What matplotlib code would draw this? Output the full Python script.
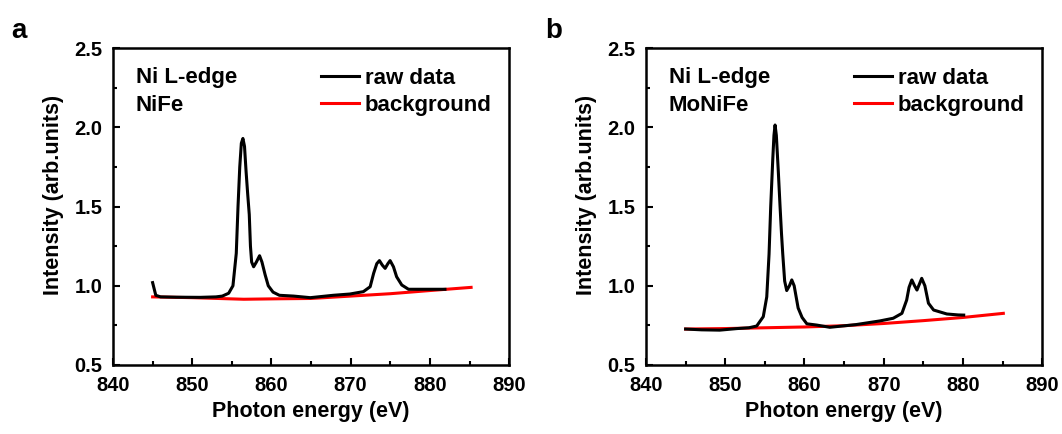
import matplotlib
matplotlib.use("Agg")
import matplotlib.pyplot as plt

plt.rcParams['font.family'] = ['Liberation Sans', 'DejaVu Sans']
plt.rcParams['font.weight'] = 'bold'

# Ni L-edge spectrum, NiFe sample
nife_energy = [845.0, 845.4, 846.0, 848.0, 851.0, 853.0, 853.8, 854.6, 855.14, 855.56,
               855.78, 856.0, 856.2, 856.4, 856.6, 856.8, 857.0, 857.2, 857.35, 857.5,
               857.75, 858.1, 858.5, 858.8, 859.2, 859.6, 860.2, 861.0, 862.8, 864.9,
               867.8, 869.9, 871.6, 872.46, 872.9, 873.3, 873.63, 874.0, 874.35, 874.7,
               874.98, 875.4, 875.8, 876.45, 877.3, 880.0, 881.9]
nife_raw = [1.02, 0.94, 0.93, 0.928, 0.927, 0.93, 0.935, 0.953, 1.0, 1.205,
            1.5, 1.75, 1.9, 1.93, 1.88, 1.72, 1.58, 1.45, 1.25, 1.15,
            1.12, 1.15, 1.19, 1.15, 1.07, 1.0, 0.96, 0.94, 0.935, 0.925,
            0.94, 0.948, 0.963, 0.994, 1.079, 1.14, 1.159, 1.13, 1.11, 1.14,
            1.159, 1.12, 1.057, 1.005, 0.978, 0.978, 0.978]
nife_bg_energy = [845.0, 850.0, 856.5, 861.0, 865.0, 870.0, 875.0, 880.0, 885.2]
nife_bg = [0.93, 0.925, 0.915, 0.918, 0.92, 0.935, 0.95, 0.97, 0.99]

# Ni L-edge spectrum, MoNiFe sample
monife_energy = [845.0, 847.0, 849.3, 851.5, 853.0, 853.97, 854.8, 855.24, 855.53, 855.74,
                 856.0, 856.15, 856.29, 856.45, 856.7, 856.92, 857.1, 857.26, 857.5, 857.76,
                 858.1, 858.4, 858.7, 859.2, 859.7, 860.3, 861.55, 863.2, 866.5, 869.5,
                 871.2, 872.3, 872.9, 873.2, 873.55, 873.9, 874.2, 874.5, 874.8, 875.2,
                 875.65, 876.3, 877.97, 879.4, 880.1]
monife_raw = [0.727, 0.722, 0.72, 0.73, 0.735, 0.746, 0.805, 0.93, 1.2, 1.5,
              1.8, 1.95, 2.015, 1.95, 1.72, 1.5, 1.33, 1.2, 1.03, 0.97,
              1.0, 1.037, 1.0, 0.86, 0.8, 0.76, 0.752, 0.738, 0.755, 0.778,
              0.795, 0.826, 0.91, 0.99, 1.037, 1.0, 0.973, 1.01, 1.047, 1.0,
              0.89, 0.847, 0.822, 0.816, 0.815]
monife_bg_energy = [845.0, 850.0, 855.0, 860.0, 865.0, 870.0, 875.0, 880.0, 885.1]
monife_bg = [0.727, 0.73, 0.735, 0.74, 0.748, 0.762, 0.78, 0.80, 0.826]

panels = [
    ("a", "NiFe", nife_energy, nife_raw, nife_bg_energy, nife_bg),
    ("b", "MoNiFe", monife_energy, monife_raw, monife_bg_energy, monife_bg),
]
x_ticks = [840, 850, 860, 870, 880, 890]
y_ticks = [0.5, 1.0, 1.5, 2.0, 2.5]

fig = plt.figure(figsize=(10.62, 4.34), dpi=100)
axes_lefts = [0.1064, 0.6083]
letter_x = [0.011, 0.513]

for (letter, sample, ex, raw, bx, bg), left, lx in zip(panels, axes_lefts, letter_x):
    ax = fig.add_axes([left, 0.159, 0.373, 0.730])
    ax.plot(ex, raw, color='black', lw=2.2, label='raw data', zorder=3)
    ax.plot(bx, bg, color='#ff0000', lw=2.2, label='background', zorder=2)
    ax.set_xlim(840, 890)
    ax.set_ylim(0.5, 2.5)
    ax.set_xticks(x_ticks)
    ax.set_yticks(y_ticks)
    ax.set_xticks([845, 855, 865, 875, 885], minor=True)
    ax.set_yticks([0.75, 1.25, 1.75, 2.25], minor=True)
    ax.tick_params(which='both', direction='in', width=1.5, labelsize=14.5)
    ax.tick_params(which='major', length=5)
    ax.tick_params(which='minor', length=3)
    ax.tick_params(axis='x', pad=8)
    ax.tick_params(axis='y', pad=7.5)
    for s in ax.spines.values():
        s.set_linewidth(1.8)
    ax.set_xlabel('Photon energy (eV)', fontsize=15.5, fontweight='bold', labelpad=4)
    ax.set_ylabel('Intensity (arb.units)', fontsize=15.5, fontweight='bold')
    ax.yaxis.set_label_coords(-0.124, 0.536)
    ax.text(0.057, 0.909, 'Ni L-edge', transform=ax.transAxes, fontsize=16,
            fontweight='bold', va='center', ha='left')
    ax.text(0.057, 0.818, sample, transform=ax.transAxes, fontsize=16,
            fontweight='bold', va='center', ha='left')
    ax.legend(loc='upper left', bbox_to_anchor=(0.525, 0.937), frameon=False,
              fontsize=16, handlelength=1.7, handletextpad=0.27, labelspacing=0.26,
              borderaxespad=0.0, borderpad=0.0)
    fig.text(lx, 0.912, letter, fontsize=20, fontweight='bold',
             ha='left', va='baseline')

fig.savefig('out.png', dpi=100)
